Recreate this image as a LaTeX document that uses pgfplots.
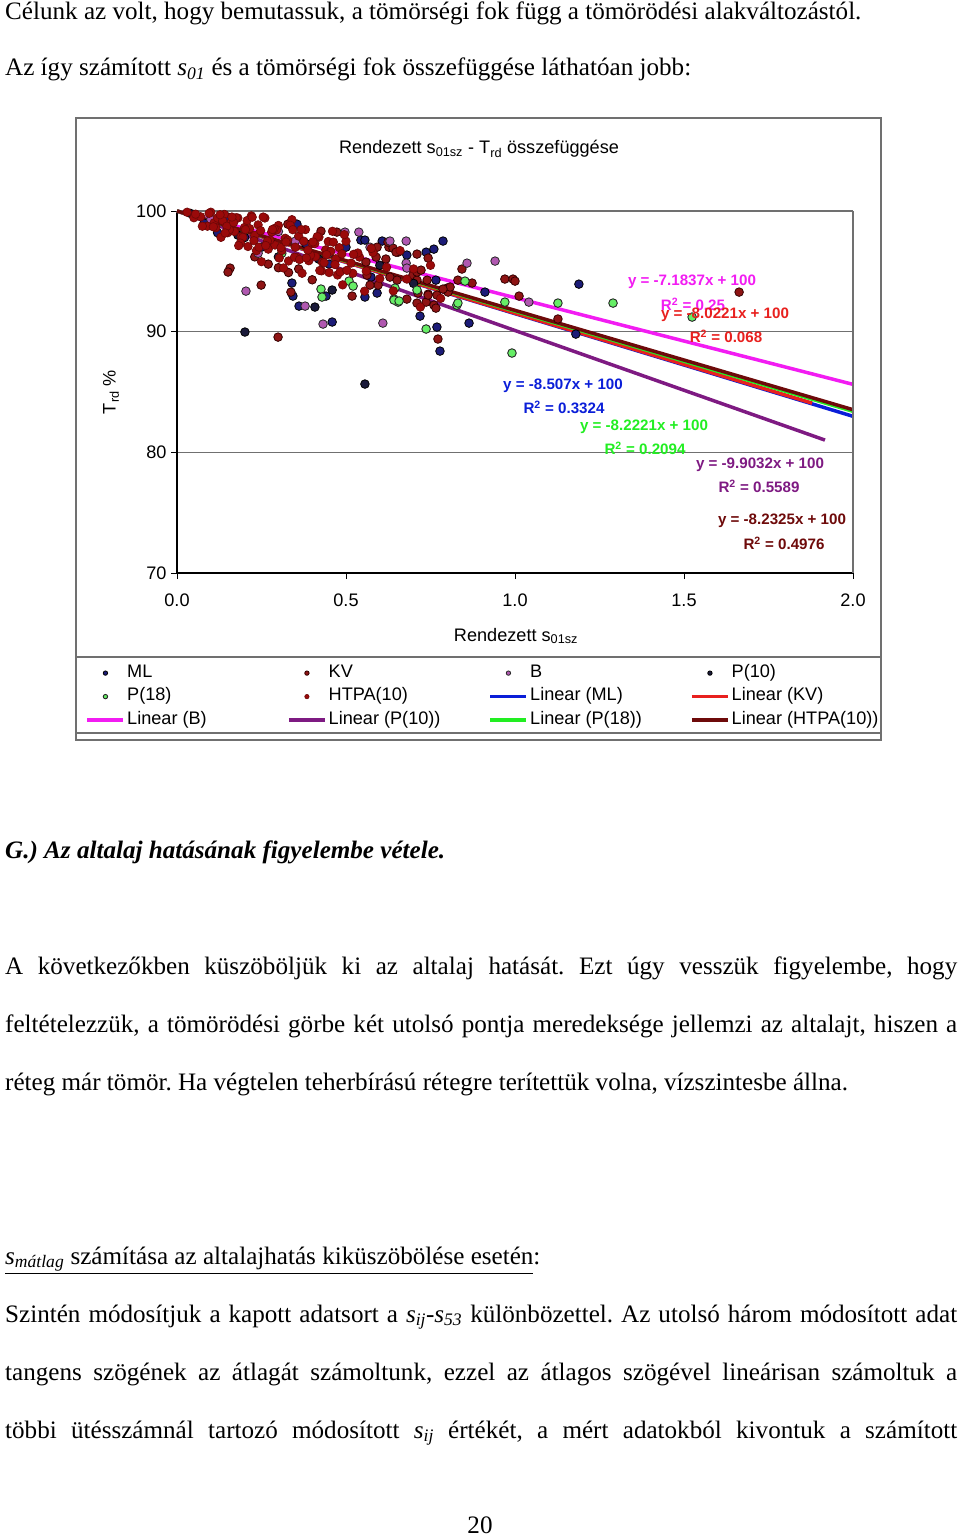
\documentclass[border=0pt]{standalone}
\usepackage{fontspec}
\setmainfont{Liberation Serif}
\newfontfamily\arial{Liberation Sans}
\usepackage{pgfplots}
\pgfplotsset{compat=1.18}
\definecolor{mlc}{HTML}{1C1C78}
\definecolor{kvc}{HTML}{8E1414}
\definecolor{bc}{HTML}{B058B0}
\definecolor{ptc}{HTML}{1A1A3A}
\definecolor{p18c}{HTML}{66EE66}
\definecolor{htc}{HTML}{9A0A0A}
\definecolor{lml}{HTML}{0A1ED8}
\definecolor{lkv}{HTML}{E8201E}
\definecolor{lb}{HTML}{F21CF2}
\definecolor{lpt}{HTML}{7E1A82}
\definecolor{lp18}{HTML}{22EE22}
\definecolor{lht}{HTML}{6E0A0A}
\definecolor{framec}{HTML}{707070}
\newcommand{\bodyfont}{\fontsize{25.2}{29}\selectfont}
\newcommand{\chartfont}{\arial\fontsize{18.2}{21}\selectfont}
\newcommand{\eqfont}{\arial\bfseries\fontsize{15.2}{17}\selectfont}
\pgfplotsset{
  mleg/.style={legend image code/.code={\draw[mark repeat=2,mark phase=2,##1,mark size=2.2bp] plot coordinates {(0bp,0bp) (18bp,0bp) (36bp,0bp)};}},
  lleg/.style={legend image code/.code={\draw[##1] (0bp,0bp) -- (36bp,0bp);}},
}
\frenchspacing
\begin{document}
\begin{tikzpicture}[x=1bp,y=1bp]
\path (0,0) rectangle (960,-1537);
% ---- text above
\node[anchor=base west,inner sep=0] at (5,-20) {\bodyfont Célunk az volt, hogy bemutassuk, a tömörségi fok függ a tömörödési alakváltozástól.};
\node[anchor=base west,inner sep=0] at (5,-76) {\bodyfont Az így számított \textit{s\textsubscript{01}} és a tömörségi fok összefüggése láthatóan jobb:};
% ---- chart frame
\draw[framec,line width=1.5bp] (76,-118) rectangle (881,-740);
\draw[framec,line width=1.2bp] (76,-657) rectangle (881,-733);
\node[anchor=center,inner sep=0] at (479,-149) {\chartfont Rendezett s\textsubscript{01sz} - T\textsubscript{rd} összefüggése};
\node[anchor=center,inner sep=0] at (516,-636) {\chartfont Rendezett s\textsubscript{01sz}};
\node[anchor=center,inner sep=0,rotate=90] at (111,-392) {\chartfont T\textsubscript{rd} \%};
\begin{axis}[
  at={(177bp,-573bp)}, anchor=south west,
  scale only axis, width=676bp, height=362bp,
  xmin=0, xmax=2, ymin=70, ymax=100,
  axis x line*=bottom, axis y line*=left,
  axis line style={black,line width=1.2bp},
  xtick={0,0.5,1,1.5,2}, ytick={70,80,90,100},
  ymajorgrids, grid style={framec,line width=1.1bp},
  tick align=outside, major tick length=6bp,
  tick style={black,line width=1bp},
  xticklabel={\pgfmathprintnumber[fixed,fixed zerofill,precision=1]{\tick}},
  /pgf/number format/assume math mode=true,
  tick label style={font=\chartfont},
  xticklabel style={yshift=-11bp},
  yticklabel style={xshift=-1bp},
  clip=false,
  legend columns=4,
  legend style={at={(axis description cs:-0.1398,-0.238)}, anchor=north west,
    draw=none, fill=none, font=\chartfont, column sep=0bp, row sep=0bp,
    nodes={inner sep=2bp, text height=14bp, text depth=5.5bp}},
  legend cell align=left,
  after end axis/.code={\draw[framec,line width=1.1bp] (rel axis cs:1,0) -- (rel axis cs:1,1);},
]
% ML
\addplot[only marks, mark=*, mark size=4.3bp, mark options={fill=mlc,draw=black,line width=0.8bp}, mleg] coordinates {
(0.340,94.03)(0.343,92.95)(0.361,92.12)(0.459,90.80)(0.441,92.95)(0.556,92.87)(0.719,91.29)(0.769,90.38)(0.778,88.39)(0.787,97.51)(0.760,96.84)(0.737,96.59)(0.607,97.51)(0.355,98.91)(0.544,97.59)(0.556,97.59)(0.680,96.35)(0.574,94.52)(0.592,93.20)(0.911,93.28)(1.189,93.94)(1.180,89.80)(0.864,90.71)(0.766,94.27)(0.08,99.0)(0.12,98.2)(0.20,97.8)(0.25,97.0)(0.30,96.2)(0.45,95.6)(0.05,99.7)(0.15,99.5)(0.50,97.0)(0.38,97.3)
};
% KV
\addplot[only marks, mark=*, mark size=4.3bp, mark options={fill=kvc,draw=black!80!red,line width=0.8bp}, mleg] coordinates {
(0.299,89.55)(0.249,93.86)(0.157,95.27)(0.151,94.94)(0.337,93.28)(0.473,98.25)(0.426,98.33)(0.328,98.91)(0.518,92.95)(0.680,92.70)(0.710,92.37)(0.737,92.45)(0.713,93.20)(0.772,89.39)(0.710,96.43)(0.743,96.10)(0.627,97.00)(0.624,97.42)(0.654,96.59)(0.592,97.00)(0.618,96.02)(0.589,96.18)(0.559,95.77)(0.595,93.86)(0.571,93.86)(0.562,94.69)(0.630,94.52)(0.651,94.27)(0.698,94.69)(0.710,94.27)(0.743,93.11)(0.760,92.20)(0.766,91.95)(0.743,93.03)(0.769,93.03)(0.799,93.61)(0.802,93.28)(0.843,95.19)(0.831,94.27)(0.873,94.03)(0.808,93.70)(0.787,93.53)(0.970,94.36)(0.994,94.36)(1.000,94.19)(1.012,92.95)(1.127,91.05)(1.663,93.28)(0.710,94.94)(0.722,95.10)(0.740,94.27)(0.639,96.92)(0.648,96.59)
(0.23,96.2)(0.27,95.6)(0.33,94.9)(0.36,95.2)(0.40,94.3)(0.30,95.3)
};
% B
\addplot[only marks, mark=*, mark size=4.3bp, mark options={fill=bc,draw=black!85,line width=0.8bp}, mleg] coordinates {
(0.204,93.36)(0.379,92.12)(0.432,90.63)(0.609,90.71)(0.678,97.51)(0.630,97.51)(0.538,98.25)(0.497,98.25)(0.571,97.00)(0.678,95.68)(0.858,95.68)(0.941,95.85)(1.041,92.45)(0.680,95.27)(0.24,96.5)(0.10,99.3)(0.35,97.5)(0.45,96.5)(0.30,98.3)
};
% P(10)
\addplot[only marks, mark=*, mark size=4.3bp, mark options={fill=ptc,draw=black,line width=0.8bp}, mleg] coordinates {
(0.201,89.97)(0.408,92.04)(0.459,93.45)(0.04,99.8)(0.18,98.0)(0.28,97.3)(0.42,96.0)(0.60,95.5)(0.70,94.0)(0.556,85.66)
};
% P(18)
\addplot[only marks, mark=*, mark size=4.3bp, mark options={fill=p18c,draw=black!85,line width=0.9bp}, mleg] coordinates {
(0.426,93.53)(0.429,92.87)(0.509,94.19)(0.521,93.78)(0.642,92.70)(0.654,92.45)(0.737,90.22)(0.645,93.61)(0.642,92.62)(0.657,92.54)(0.710,93.45)(0.828,92.20)(0.852,94.19)(0.831,92.37)(0.970,92.45)(1.127,92.37)(1.290,92.37)(0.991,88.23)(1.524,91.21)(0.31,96.5)
};
% HTPA(10)
\addplot[only marks, mark=*, mark size=4.3bp, mark options={fill=htc,draw=htc!70!black,line width=0.6bp}, mleg] coordinates {
(0.03,99.90)(0.05,99.44)(0.07,99.52)(0.09,98.74)(0.10,99.90)(0.11,99.03)(0.12,99.42)(0.13,97.82)(0.14,99.72)(0.15,98.20)(0.16,99.04)(0.17,98.30)(0.18,99.42)(0.19,97.87)(0.20,98.64)(0.21,97.06)(0.22,99.60)(0.23,97.98)(0.24,98.85)(0.25,95.80)(0.26,99.42)(0.27,96.84)(0.28,98.26)(0.29,97.18)(0.30,98.80)(0.31,96.72)(0.32,97.74)(0.33,95.86)(0.34,99.28)(0.35,97.00)(0.36,97.92)(0.37,94.84)(0.38,98.46)(0.39,95.88)(0.40,97.30)(0.41,96.22)(0.42,97.84)(0.43,95.76)(0.44,96.78)(0.45,94.90)(0.46,98.32)(0.47,96.04)(0.48,96.96)(0.49,93.88)(0.50,97.50)(0.52,94.84)(0.54,96.18)(0.56,95.02)(0.58,96.56)(0.60,94.40)(0.62,95.34)(0.64,93.38)(0.66,96.72)(0.68,94.36)(0.70,95.20)(0.72,92.04)(0.75,95.50)(0.78,92.76)
(0.055,99.74)(0.075,98.74)(0.095,99.81)(0.115,98.62)(0.135,99.19)(0.155,98.45)(0.175,99.44)(0.195,97.82)(0.215,98.54)(0.235,96.71)(0.255,99.50)(0.275,97.60)(0.295,98.44)(0.315,95.28)(0.335,98.82)(0.355,96.16)(0.375,97.50)(0.395,96.34)(0.415,97.88)(0.435,95.72)(0.455,96.66)(0.475,94.70)(0.495,98.04)(0.515,95.68)(0.535,96.52)(0.555,93.36)(0.575,96.90)
(0.1075,98.69)(0.1275,99.69)(0.1475,98.74)(0.1675,99.04)(0.1875,97.34)(0.2075,99.21)(0.2275,97.54)(0.2475,98.37)(0.2675,97.51)(0.2875,98.54)(0.3075,96.98)(0.3275,97.59)(0.3475,96.17)(0.3675,98.46)(0.3875,96.76)(0.4075,97.30)(0.4275,95.04)(0.4475,97.47)(0.4675,95.56)(0.4875,96.45)
(0.1425,98.18)(0.1625,99.50)(0.1825,97.13)(0.2025,98.46)(0.2225,99.49)(0.2425,97.01)(0.2625,97.14)(0.2825,98.47)(0.3025,96.10)(0.3225,97.43)(0.3425,98.45)(0.3625,95.98)(0.3825,96.11)(0.4025,97.44)(0.4225,95.07)(0.4425,96.39)(0.4625,97.42)(0.4825,94.95)(0.5025,95.08)(0.5225,96.41)
};
% trend lines
\addplot[lml, line width=3.5bp, lleg] coordinates {(0,100) (2,82.986)};
\addplot[lkv, line width=3.5bp, lleg] coordinates {(0,100) (1.879,84.08)};
\addplot[lb, line width=3.5bp, lleg] coordinates {(0,100) (2,85.633)};
\addplot[lpt, line width=3.5bp, lleg] coordinates {(0,100) (1.917,81.016)};
\addplot[lp18, line width=3.5bp, lleg] coordinates {(0,100) (2,83.40)};
\addplot[lht, line width=3.5bp, lleg] coordinates {(0,100) (2,83.535)};
\legend{\makebox[158bp][l]{ML},\makebox[158bp][l]{KV},\makebox[158bp][l]{B},\makebox[150bp][l]{P(10)},
\makebox[158bp][l]{P(18)},\makebox[158bp][l]{HTPA(10)},\makebox[158bp][l]{Linear (ML)},\makebox[150bp][l]{Linear (KV)},
\makebox[158bp][l]{Linear (B)},\makebox[158bp][l]{Linear (P(10))},\makebox[158bp][l]{Linear (P(18))},\makebox[150bp][l]{Linear (HTPA(10))}}
\end{axis}
% equation labels
\node[text=lb] at (692,-282) {\eqfont y = -7.1837x + 100};
\node[text=lb] at (693,-304) {\eqfont R\textsuperscript{2} = 0.25};
\node[text=lkv] at (725,-315) {\eqfont y = -8.0221x + 100};
\node[text=lkv] at (726,-336) {\eqfont R\textsuperscript{2} = 0.068};
\node[text=lml] at (563,-386) {\eqfont y = -8.507x + 100};
\node[text=lml] at (564,-407) {\eqfont R\textsuperscript{2} = 0.3324};
\node[text=lp18] at (644,-427) {\eqfont y = -8.2221x + 100};
\node[text=lp18] at (645,-448) {\eqfont R\textsuperscript{2} = 0.2094};
\node[text=lpt] at (760,-465) {\eqfont y = -9.9032x + 100};
\node[text=lpt] at (759,-486) {\eqfont R\textsuperscript{2} = 0.5589};
\node[text=lht] at (782,-521) {\eqfont y = -8.2325x + 100};
\node[text=lht] at (784,-543) {\eqfont R\textsuperscript{2} = 0.4976};
% ---- text below
\node[anchor=base west,inner sep=0] at (5,-858) {\bodyfont\bfseries\itshape G.) Az altalaj hatásának figyelembe vétele.};
\node[anchor=base west,inner sep=0] at (5,-974) {\bodyfont\makebox[952bp][s]{A következőkben küszöböljük ki az altalaj hatását. Ezt úgy vesszük figyelembe, hogy}};
\node[anchor=base west,inner sep=0] at (5,-1032) {\bodyfont\makebox[952bp][s]{feltételezzük, a tömörödési görbe két utolsó pontja meredeksége jellemzi az altalajt, hiszen a}};
\node[anchor=base west,inner sep=0] at (5,-1090) {\bodyfont réteg már tömör. Ha végtelen teherbírású rétegre terítettük volna, vízszintesbe állna.};
\node[anchor=base west,inner sep=0] at (5,-1264) {\bodyfont\underline{\textit{s}\textsubscript{\textit{mátlag}} számítása az altalajhatás kiküszöbölése esetén}:};
\node[anchor=base west,inner sep=0] at (5,-1322) {\bodyfont\makebox[952bp][s]{Szintén módosítjuk a kapott adatsort a \textit{s\textsubscript{ij}}-\textit{s\textsubscript{53}} különbözettel. Az utolsó három módosított adat}};
\node[anchor=base west,inner sep=0] at (5,-1380) {\bodyfont\makebox[952bp][s]{tangens szögének az átlagát számoltunk, ezzel az átlagos szögével lineárisan számoltuk a}};
\node[anchor=base west,inner sep=0] at (5,-1438) {\bodyfont\makebox[952bp][s]{többi ütésszámnál tartozó módosított \textit{s\textsubscript{ij}} értékét, a mért adatokból kivontuk a számított}};
\node[anchor=base,inner sep=0] at (480,-1533) {\bodyfont 20};
\end{tikzpicture}
\end{document}
